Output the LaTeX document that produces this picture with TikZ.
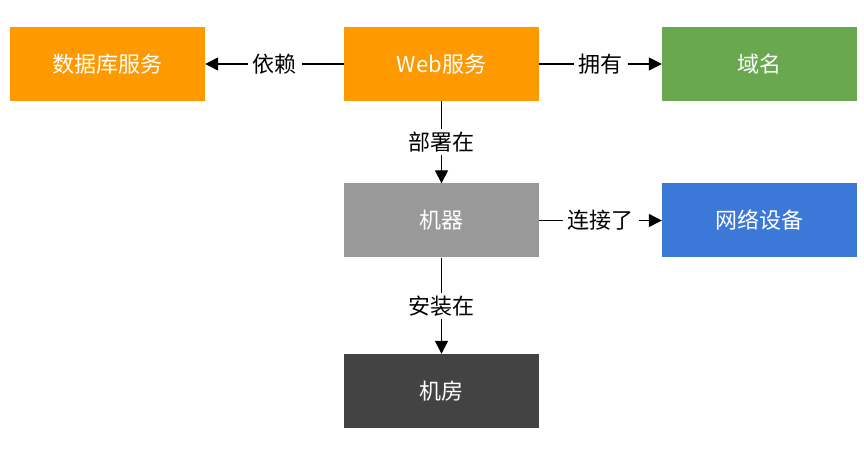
\documentclass[tikz,border=0pt]{standalone}
\usepackage{fontspec}
\setmainfont{Noto Sans CJK SC}
\usetikzlibrary{arrows.meta}
\definecolor{orng}{HTML}{FF9900}
\definecolor{grn}{HTML}{6AA84F}
\definecolor{gry}{HTML}{999999}
\definecolor{blu}{HTML}{3C78D8}
\definecolor{drk}{HTML}{434343}
\tikzset{
  box/.style={minimum width=195pt, minimum height=74pt, inner sep=0pt, text=white, font=\fontsize{22}{25}\selectfont},
  lbl/.style={fill=white, inner xsep=5pt, inner ysep=3pt, font=\fontsize{22}{25}\selectfont, text=black},
  conn/.style={line width=1.4pt, -{Triangle[length=13pt,width=13pt]}},
}
\begin{document}
\begin{tikzpicture}[x=1pt,y=1pt]
\useasboundingbox (0,0) rectangle (864,449);
\node[box, fill=orng] (db) at (107.5,385) {数据库服务};
\node[box, fill=orng] (web) at (441.5,385) {Web服务};
\node[box, fill=grn] (dom) at (759.5,385) {域名};
\node[box, fill=gry] (mac) at (441.5,228.5) {机器};
\node[box, fill=blu] (net) at (759.5,228.5) {网络设备};
\node[box, fill=drk] (room) at (441.5,58) {机房};
\draw[conn] (web) -- node[lbl] {依赖} (db);
\draw[conn] (web) -- node[lbl] {拥有} (dom);
\draw[conn] (web) -- node[lbl] {部署在} (mac);
\draw[conn] (mac) -- node[lbl] {连接了} (net);
\draw[conn] (mac) -- node[lbl] {安装在} (room);
\end{tikzpicture}
\end{document}
